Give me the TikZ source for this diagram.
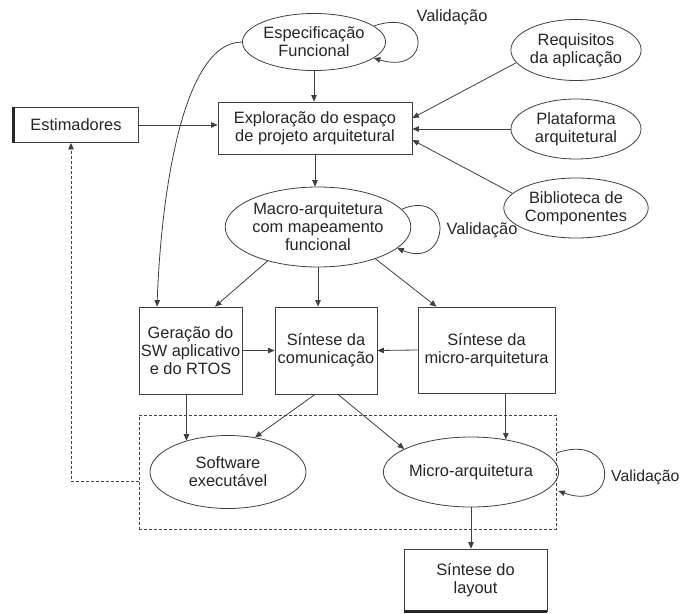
\documentclass[tikz,border=0pt]{standalone}
\usepackage{fontspec}
\setmainfont{Liberation Sans}
\usetikzlibrary{arrows.meta,shapes.geometric,calc}
\begin{document}
\begin{tikzpicture}[x=1pt,y=-1pt,
  every node/.style={font=\fontsize{16.4}{18}\selectfont, text=black!85},
  ln/.style={draw=black!75, line width=0.8pt},
  arr/.style={ln, -{Triangle[length=6.5pt,width=5.5pt]}},
  dsh/.style={dash pattern=on 3pt off 2pt},
  ell/.style={ln, ellipse, inner sep=0pt, align=center},
  box/.style={ln, rectangle, inner sep=0pt, align=center},
  lbl/.style={inner sep=0pt}]
\useasboundingbox (0,0) rectangle (685,613);
\fill[white] (0,0) rectangle (685,613);

% ellipses
\node[ell, minimum width=132pt, minimum height=57pt] (espec) at (314,42) {Especificação\\Funcional};
\node[ell, minimum width=130pt, minimum height=61pt] (req) at (576,50) {Requisitos\\da aplicação};
\node[ell, minimum width=130pt, minimum height=60pt] (plat) at (576,129) {Plataforma\\arquitetural};
\node[ell, minimum width=130pt, minimum height=60pt] (bib) at (576,208) {Biblioteca de\\Componentes};
\node[ell, minimum width=170pt, minimum height=80pt] (macro) at (318,227) {Macro-arquitetura\\com mapeamento\\funcional};

% boxes
\node[box, minimum width=194pt, minimum height=52pt] (explor) at (315,128) {Exploração do espaço\\de projeto arquitetural};
\node[box, minimum width=124pt, minimum height=35pt] (estim) at (76,125) {Estimadores};
\node[box, minimum width=103pt, minimum height=87pt] (ger) at (190.5,350.5) {Geração do\\SW aplicativo\\e do RTOS};
\node[box, minimum width=102pt, minimum height=87pt] (com) at (326,350.5) {Síntese da\\comunicação};
\node[box, minimum width=137pt, minimum height=86pt] (smicro) at (486.5,350) {Síntese da\\micro-arquitetura};

% dashed group
\node[ln, dsh, rectangle, minimum width=417pt, minimum height=114pt, inner sep=0pt] (grp) at (347.5,472) {};
\node[ell, minimum width=156pt, minimum height=73pt] (soft) at (228,472) {Software\\executável};
\node[ell, minimum width=154pt, minimum height=70pt] (microarq) at (471,472) {Micro-arquitetura};

\node[box, minimum width=143pt, minimum height=62pt] (layout) at (475.5,580) {Síntese do\\layout};

% labels
\node[lbl] (v1) at (452,17) {Validação};
\node[lbl] (v2) at (482,230) {Validação};
\node[lbl, anchor=west, font=\fontsize{15.8}{18}\selectfont] (v3) at (611,477) {Validação};

% thick edges (scan artefacts)
\draw[black!85, line width=2.5pt] (estim.north west) -- (estim.south west);
\draw[black!85, line width=2.5pt] (layout.south west) -- (layout.south east);

% connectors
\draw[arr] (espec.south) -- (espec.south |- explor.north);
\draw[arr] (explor.south) -- (explor.south |- macro.north);
\draw[arr] (estim.east) -- (estim.east -| explor.west);
\draw[arr] (req.192) -- ($(explor.east)+(0,-10)$);
\draw[arr] (plat.west) -- (plat.west -| explor.east);
\draw[arr] (bib.167) -- ($(explor.east)+(0,12)$);

\draw[arr] (espec.west) .. controls +(-60,0) and +(4,-110) .. ($(ger.north)+(-33.5,0)$);

\draw[arr] (macro.214) -- ($(ger.north)+(24.5,0)$);
\draw[arr] (macro.south) -- (macro.south |- com.north);
\draw[arr] (macro.-29) -- ($(smicro.north)+(-50,0)$);

\draw[arr] (ger.east) -- (com.west);
\draw[arr] (smicro.west) -- (com.east);

\draw[arr] (soft.143 |- ger.south) -- (soft.143);
\draw[arr] ($(com.south)+(-11,0)$) -- (soft.52);
\draw[arr] ($(com.south)+(12,0)$) -- (microarq.161);
\draw[arr] (microarq.43 |- smicro.south) -- (microarq.43);
\draw[arr] (microarq.south) -- (microarq.south |- layout.north);

\draw[arr, dsh] ($(grp.west)+(0,9)$) -| ($(estim.south)+(-5,0)$);

% self loops
\draw[arr] (espec.15) .. controls +(58,-20) and +(58,18) .. (espec.-15);
\draw[arr] (macro.12) .. controls +(53,-22) and +(53,22) .. (macro.-15);
\draw[arr] ($(grp.east)+(0,-19)$) .. controls +(62,-22) and +(62,22) .. ($(grp.east)+(2,19)$);
\end{tikzpicture}
\end{document}
